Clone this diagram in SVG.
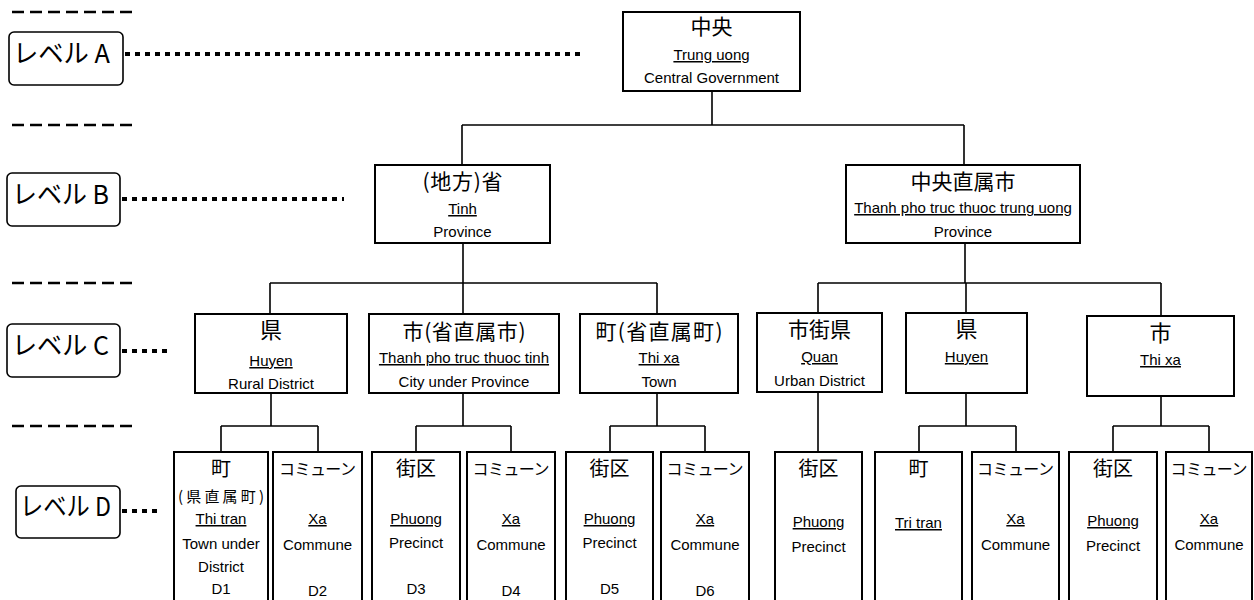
<svg xmlns="http://www.w3.org/2000/svg" width="1254" height="600" viewBox="0 0 1254 600">
<style>
.bg{fill:#fff}
.box{fill:#fff;stroke:#000;stroke-width:2}
.lvl{fill:#fff;stroke:#000;stroke-width:1.6}
.con{fill:none;stroke:#000;stroke-width:1.6}
.dash{fill:none;stroke:#000;stroke-width:2.5;stroke-dasharray:12 6}
.dot{fill:none;stroke:#000;stroke-width:4;stroke-dasharray:5 5}
.j{font-family:"Noto Sans CJK JP","Noto Sans CJK SC",sans-serif;fill:#000;text-anchor:middle}
.l{font-family:"Liberation Sans",Arial,sans-serif;font-size:15px;fill:#000;text-anchor:middle}
.u{text-decoration:underline}
.lt{font-family:"Noto Sans CJK JP",sans-serif;font-size:26px;fill:#000}
.j21{font-size:21px}
.j20{font-size:20px}
.j16{font-size:16px}
.j15{font-size:15px}
</style>
<rect class="bg" x="0" y="0" width="1254" height="600"/>

<g id="level-guides">
<path class="dash" d="M12 12H138M12 125H138M12 283H138M12 426H138"/>
<path class="dot" d="M125 54H582M122 199H344M122 351H172M122 511H158"/>
</g>
<g id="level-A"><rect class="lvl" x="9" y="32" width="114" height="53" rx="5"/><text class="lt" x="13" y="63" textLength="97" lengthAdjust="spacingAndGlyphs">レベル A</text></g>
<g id="level-B"><rect class="lvl" x="7" y="173" width="113" height="53" rx="5"/><text class="lt" x="12" y="204" textLength="97" lengthAdjust="spacingAndGlyphs">レベル B</text></g>
<g id="level-C"><rect class="lvl" x="7" y="324" width="113" height="53" rx="5"/><text class="lt" x="12" y="355" textLength="97" lengthAdjust="spacingAndGlyphs">レベル C</text></g>
<g id="level-D"><rect class="lvl" x="16" y="486" width="104" height="52" rx="5"/><text class="lt" x="20" y="516" textLength="91" lengthAdjust="spacingAndGlyphs">レベル D</text></g>

<g id="connectors">
<path class="con" d="M712 91V125M462 125H964M462 125V165M964 125V165"/>
<path class="con" d="M463 243V283M270 283H657M270 283V314M463 283V314M657 283V314"/>
<path class="con" d="M965 243V283M818 283H1161M818 283V313M966 283V313M1161 283V316"/>
<path class="con" d="M271 393V426M221 426H318M221 426V452M318 426V452"/>
<path class="con" d="M463 393V426M416 426H511M416 426V452M511 426V452"/>
<path class="con" d="M657 393V426M610 426H705M610 426V452M705 426V452"/>
<path class="con" d="M818 392V452"/>
<path class="con" d="M966 393V426M919 426H1016M919 426V452M1016 426V452"/>
<path class="con" d="M1161 396V426M1113 426H1209M1113 426V452M1209 426V452"/>
</g>

<g id="n-central"><rect class="box" x="623" y="12" width="177" height="79"/>
<text class="j j21" x="711.5" y="34">中央</text>
<text class="l u" x="711.5" y="60">Trung uong</text>
<text class="l" x="711.5" y="83">Central Government</text></g>

<g id="n-tinh"><rect class="box" x="375" y="165" width="175" height="78"/>
<text class="j j21" x="462.5" y="189" textLength="80">(地方)省</text>
<text class="l u" x="462.5" y="214">Tinh</text>
<text class="l" x="462.5" y="237">Province</text></g>

<g id="n-tp-tw"><rect class="box" x="846" y="165" width="234" height="78"/>
<text class="j j21" x="963" y="189">中央直属市</text>
<text class="l u" x="963" y="213">Thanh pho truc thuoc trung uong</text>
<text class="l" x="963" y="237">Province</text></g>

<g id="n-huyen1"><rect class="box" x="195" y="314" width="152" height="79"/>
<text class="j" style="font-size:22px" x="271" y="338">県</text>
<text class="l u" x="271" y="366">Huyen</text>
<text class="l" x="271" y="389">Rural District</text></g>

<g id="n-tp-tinh"><rect class="box" x="369" y="314" width="190" height="79"/>
<text class="j j21" x="464" y="339" textLength="123">市(省直属市)</text>
<text class="l u" x="464" y="363">Thanh pho truc thuoc tinh</text>
<text class="l" x="464" y="387">City under Province</text></g>

<g id="n-thixa1"><rect class="box" x="580" y="314" width="158" height="79"/>
<text class="j j21" x="659" y="339" textLength="127">町(省直属町)</text>
<text class="l u" x="659" y="363">Thi xa</text>
<text class="l" x="659" y="387">Town</text></g>

<g id="n-quan"><rect class="box" x="757" y="313" width="125" height="79"/>
<text class="j j21" x="819.5" y="337">市街県</text>
<text class="l u" x="819.5" y="362">Quan</text>
<text class="l" x="819.5" y="386">Urban District</text></g>

<g id="n-huyen2"><rect class="box" x="906" y="313" width="121" height="80"/>
<text class="j" style="font-size:22px" x="966.5" y="337">県</text>
<text class="l u" x="966.5" y="362">Huyen</text></g>

<g id="n-thixa2"><rect class="box" x="1087" y="316" width="147" height="80"/>
<text class="j" style="font-size:22px" x="1160.5" y="341">市</text>
<text class="l u" x="1160.5" y="365">Thi xa</text></g>

<g id="d1"><rect class="box" x="174" y="452" width="94" height="160"/>
<text class="j j20" x="221" y="476">町</text>
<text class="j j15" x="221" y="502" textLength="86">(県直属町)</text>
<text class="l u" x="221" y="524">Thi tran</text>
<text class="l" x="221" y="549">Town under</text>
<text class="l" x="221" y="572">District</text>
<text class="l" x="221" y="594">D1</text></g>

<g id="d2"><rect class="box" x="273" y="452" width="89" height="160"/>
<text class="j j16" x="317.5" y="475" textLength="77">コミューン</text>
<text class="l u" x="317.5" y="524">Xa</text>
<text class="l" x="317.5" y="550">Commune</text>
<text class="l" x="317.5" y="596">D2</text></g>

<g id="d3"><rect class="box" x="372" y="452" width="88" height="160"/>
<text class="j j20" x="416" y="476">街区</text>
<text class="l u" x="416" y="524">Phuong</text>
<text class="l" x="416" y="548">Precinct</text>
<text class="l" x="416" y="594">D3</text></g>

<g id="d4"><rect class="box" x="467" y="452" width="88" height="160"/>
<text class="j j16" x="511" y="475" textLength="77">コミューン</text>
<text class="l u" x="511" y="524">Xa</text>
<text class="l" x="511" y="550">Commune</text>
<text class="l" x="511" y="596">D4</text></g>

<g id="d5"><rect class="box" x="566" y="452" width="87" height="160"/>
<text class="j j20" x="609.5" y="476">街区</text>
<text class="l u" x="609.5" y="524">Phuong</text>
<text class="l" x="609.5" y="548">Precinct</text>
<text class="l" x="609.5" y="594">D5</text></g>

<g id="d6"><rect class="box" x="661" y="452" width="88" height="160"/>
<text class="j j16" x="705" y="475" textLength="77">コミューン</text>
<text class="l u" x="705" y="524">Xa</text>
<text class="l" x="705" y="550">Commune</text>
<text class="l" x="705" y="596">D6</text></g>

<g id="d7"><rect class="box" x="775" y="452" width="87" height="160"/>
<text class="j j20" x="818.5" y="476">街区</text>
<text class="l u" x="818.5" y="527">Phuong</text>
<text class="l" x="818.5" y="552">Precinct</text></g>

<g id="d8"><rect class="box" x="875" y="452" width="87" height="160"/>
<text class="j j20" x="918.5" y="476">町</text>
<text class="l u" x="918.5" y="528">Tri tran</text></g>

<g id="d9"><rect class="box" x="972" y="452" width="87" height="160"/>
<text class="j j16" x="1015.5" y="475" textLength="77">コミューン</text>
<text class="l u" x="1015.5" y="524">Xa</text>
<text class="l" x="1015.5" y="550">Commune</text></g>

<g id="d10"><rect class="box" x="1069" y="452" width="88" height="160"/>
<text class="j j20" x="1113" y="476">街区</text>
<text class="l u" x="1113" y="526">Phuong</text>
<text class="l" x="1113" y="551">Precinct</text></g>

<g id="d11"><rect class="box" x="1166" y="452" width="86" height="160"/>
<text class="j j16" x="1209" y="475" textLength="77">コミューン</text>
<text class="l u" x="1209" y="524">Xa</text>
<text class="l" x="1209" y="550">Commune</text></g>
</svg>
